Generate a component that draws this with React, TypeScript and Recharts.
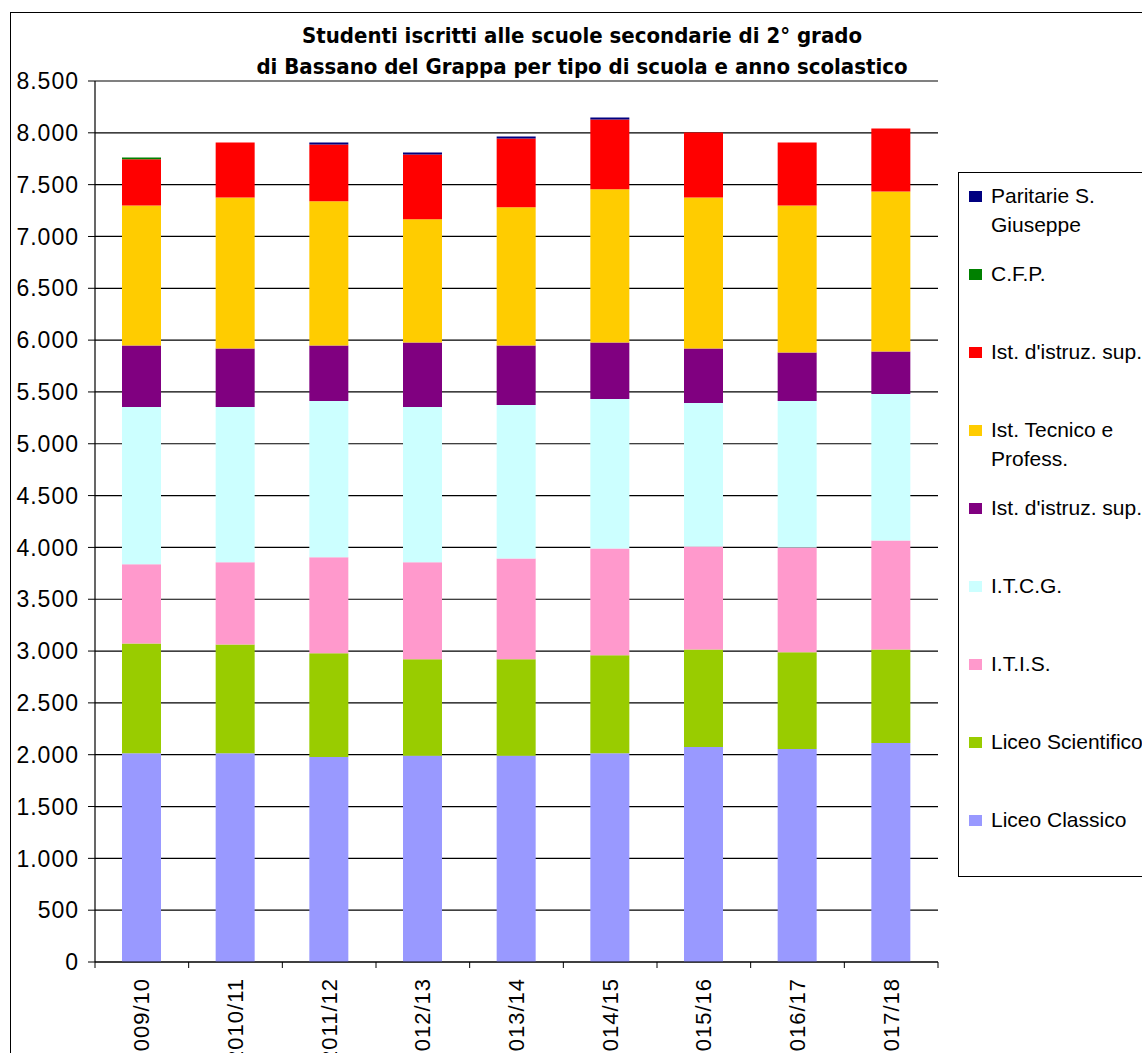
import { Bar, BarChart, CartesianGrid, Legend, ReferenceLine, XAxis, YAxis } from "recharts"

const years = ["2009/10", "2010/11", "2011/12", "2012/13", "2013/14", "2014/15", "2015/16", "2016/17", "2017/18"]

const liceoClassico = [2013, 2013, 1978, 1990, 1990, 2013, 2074, 2055, 2113]
const liceoScientifico = [1061, 1051, 1000, 930, 930, 946, 942, 933, 903]
const itis = [763, 792, 926, 936, 974, 1031, 994, 1012, 1051]
const itcg = [1517, 1498, 1508, 1498, 1479, 1442, 1383, 1412, 1413]
const istSupA = [594, 565, 536, 623, 575, 545, 526, 468, 410]
const tecnicoProfess = [1352, 1458, 1391, 1188, 1333, 1478, 1458, 1420, 1545]
const istSupB = [446, 530, 549, 626, 665, 673, 626, 607, 606]
const cfp = [17, 0, 0, 0, 0, 0, 0, 0, 0]
const paritarie = [0, 0, 19, 19, 19, 19, 0, 0, 0]

const yTicks = [0, 500, 1000, 1500, 2000, 2500, 3000, 3500, 4000, 4500, 5000, 5500, 6000, 6500, 7000, 7500, 8000, 8500]

const series = [
  { key: "lc", name: "Liceo Classico", color: "#9999FF", values: liceoClassico },
  { key: "ls", name: "Liceo Scientifico", color: "#99CC00", values: liceoScientifico },
  { key: "itis", name: "I.T.I.S.", color: "#FF99CC", values: itis },
  { key: "itcg", name: "I.T.C.G.", color: "#CCFFFF", values: itcg },
  { key: "supA", name: "Ist. d'istruz. sup.", color: "#800080", values: istSupA },
  { key: "tecn", name: "Ist. Tecnico e Profess.", color: "#FFCC00", values: tecnicoProfess },
  { key: "supB", name: "Ist. d'istruz. sup.", color: "#FF0000", values: istSupB },
  { key: "cfp", name: "C.F.P.", color: "#008000", values: cfp },
  { key: "par", name: "Paritarie S. Giuseppe", color: "#000080", values: paritarie },
]

const data = years.map((year, i) => {
  const row: Record<string, string | number> = { year }
  series.forEach((s) => (row[s.key] = s.values[i]))
  return row
})

const W = 1142
const H = 1053
const PLOT_LEFT = 95
const PLOT_RIGHT = 938
const PLOT_TOP = 81
const PLOT_BOTTOM = 962
const BAND = (PLOT_RIGHT - PLOT_LEFT) / years.length
const FONT = "'Liberation Sans', Arial, sans-serif"

const fmt = (v: number) => String(v).replace(/\B(?=(\d{3})+(?!\d))/g, ".")

function YearTick(props: any) {
  const { x, payload, index } = props
  const top = PLOT_BOTTOM + 16
  return (
    <g>
      <line x1={x - BAND / 2} x2={x - BAND / 2} y1={PLOT_BOTTOM} y2={PLOT_BOTTOM + 6} stroke="#000" />
      {index === years.length - 1 && (
        <line x1={x + BAND / 2} x2={x + BAND / 2} y1={PLOT_BOTTOM} y2={PLOT_BOTTOM + 6} stroke="#000" />
      )}
      <text
        x={x}
        y={top}
        transform={`rotate(-90 ${x} ${top})`}
        textAnchor="end"
        dominantBaseline="central"
        fontSize={22}
        letterSpacing={1}
        fontFamily={FONT}
        fill="#000"
      >
        {payload.value}
      </text>
    </g>
  )
}

// legend lists the series top-down in reverse stacking order, like the original
function LegendBox() {
  const items = [...series].reverse()
  return (
    <div
      style={{
        width: 300,
        height: 705,
        border: "1px solid #000",
        background: "#fff",
        boxSizing: "border-box",
        paddingTop: 10,
        fontFamily: FONT,
        fontSize: 21,
      }}
    >
      {items.map((item) => (
        <div key={item.key} style={{ height: 78, display: "flex", alignItems: "flex-start" }}>
          <span
            style={{
              display: "inline-block",
              width: 13,
              height: 11,
              background: item.color,
              marginLeft: 10,
              marginTop: 8,
              marginRight: 9,
              flex: "none",
            }}
          />
          <span style={{ width: 185, lineHeight: "29px", marginTop: -2 }}>{item.name}</span>
        </div>
      ))}
    </div>
  )
}

export default function App() {
  return (
    <div
      style={{
        position: "absolute",
        left: 0,
        top: 0,
        width: W,
        height: H,
        overflow: "hidden",
        background: "#fff",
        fontFamily: FONT,
      }}
    >
      <div
        style={{
          position: "absolute",
          left: 10,
          top: 12,
          width: W + 100,
          height: H + 100,
          border: "1.5px solid #000",
        }}
      />
      <div
        style={{
          position: "absolute",
          left: -18,
          width: 1200,
          textAlign: "center",
          top: 20,
          fontFamily: "'Liberation Sans Narrow', 'Arial Narrow', 'DejaVu Sans Condensed', sans-serif",
          fontWeight: "bold",
          fontSize: 22,
          lineHeight: "31px",
          color: "#000",
        }}
      >
        <div>Studenti iscritti alle scuole secondarie di 2° grado</div>
        <div>di Bassano del Grappa per tipo di scuola e anno scolastico</div>
      </div>
      <BarChart
        width={W}
        height={H}
        data={data}
        margin={{ top: PLOT_TOP, right: W - PLOT_RIGHT, left: 10, bottom: 0 }}
        style={{ position: "absolute", left: 0, top: 0 }}
      >
        <CartesianGrid vertical={false} stroke="#000" strokeWidth={1.2} />
        <XAxis
          dataKey="year"
          height={H - PLOT_BOTTOM}
          axisLine={{ stroke: "#000", strokeWidth: 1.2 }}
          tickLine={false}
          tick={<YearTick />}
          interval={0}
        />
        <YAxis
          width={PLOT_LEFT - 10}
          domain={[0, 8500]}
          ticks={yTicks}
          interval={0}
          tickFormatter={fmt}
          axisLine={{ stroke: "#000", strokeWidth: 1.2 }}
          tickLine={{ stroke: "#000" }}
          tickSize={7}
          tickMargin={9}
          tick={{ fontSize: 23, fill: "#000", fontFamily: FONT, letterSpacing: 1 }}
        />
        <YAxis
          yAxisId="frame"
          orientation="right"
          width={0}
          domain={[0, 8500]}
          tick={false}
          tickLine={false}
          axisLine={{ stroke: "#808080", strokeWidth: 2 }}
        />
        <ReferenceLine y={8500} stroke="#808080" strokeWidth={2} />
        <Legend
          layout="vertical"
          align="center"
          verticalAlign="middle"
          content={<LegendBox />}
          wrapperStyle={{ left: 958, top: 172, width: 300 }}
        />
        {series.map((s) => (
          <Bar
            key={s.key}
            dataKey={s.key}
            name={s.name}
            stackId="a"
            fill={s.color}
            barSize={39}
            isAnimationActive={false}
          />
        ))}
      </BarChart>
    </div>
  )
}
